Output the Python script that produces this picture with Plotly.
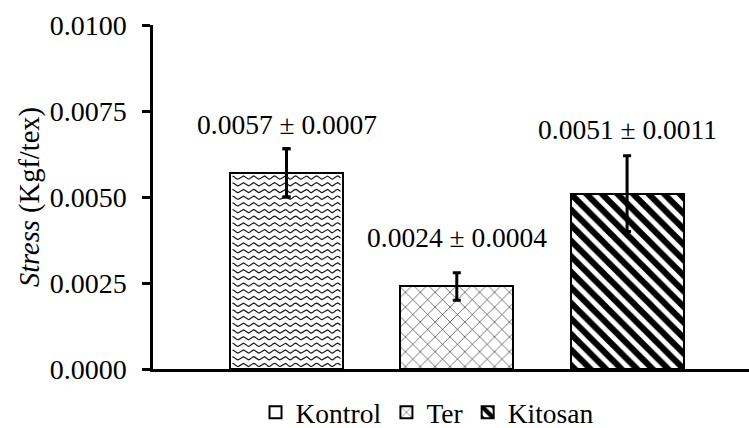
import numpy as np
import plotly.graph_objects as go

# Mean stress per treatment and its standard deviation
categories = ["Kontrol", "Ter", "Kitosan"]
stress_mean = [0.0057, 0.0024, 0.0051]
stress_sd = [0.0007, 0.0004, 0.0011]
y_ticks = [0.0, 0.0025, 0.0050, 0.0075, 0.0100]

positions = list(range(len(categories)))
bar_width = 0.664
x_range = [-0.784, 2.716]
y_range = [0.0, 0.0100]
label_lift = [7, 18, 9]   # px gap between error cap and value label

FONT = "Liberation Serif"

W, H = 749, 428
margin = dict(l=153, r=0, t=25, b=58.5, autoexpand=False)
px_per_x = (W - margin["l"] - margin["r"]) / (x_range[1] - x_range[0])
px_per_y = (H - margin["t"] - margin["b"]) / (y_range[1] - y_range[0])

patterns = {
    "Kontrol": dict(shape=""),
    "Ter": dict(shape="x", size=10.5, solidity=0.1, fgcolor="black",
                bgcolor="white", fgopacity=1),
    "Kitosan": dict(shape="\\", size=11, solidity=0.55, fgcolor="black",
                    bgcolor="white", fgopacity=1),
}

fig = go.Figure()

for pos, name, m, sd in zip(positions, categories, stress_mean, stress_sd):
    fig.add_trace(go.Bar(
        x=[pos], y=[m], name=name, width=bar_width,
        marker=dict(color="white", line=dict(color="black", width=2),
                    pattern=patterns[name]),
        error_y=dict(type="data", array=[sd], visible=True,
                     color="black", thickness=3, width=4),
    ))

# Wavy fill for the Kontrol bar, built from its own extent
def wave_fill(center, height, period_px=10.5, amp_px=1.6, gap_px=6.7, inset_px=2.5):
    x0 = center - bar_width / 2 + inset_px / px_per_x
    x1 = center + bar_width / 2 - inset_px / px_per_x
    xs = np.linspace(x0, x1, int((x1 - x0) * px_per_x) + 1)
    phase = (xs - x0) * px_per_x / period_px * 2 * np.pi
    amp = amp_px / px_per_y
    gap = gap_px / px_per_y
    out_x, out_y = [], []
    level = (inset_px + amp_px) / px_per_y
    while level + amp < height - inset_px / px_per_y:
        out_x += list(xs) + [None]
        out_y += list(level + amp * np.cos(phase)) + [None]
        level += gap
    return out_x, out_y

wx, wy = wave_fill(positions[0], stress_mean[0])
fig.add_trace(go.Scatter(x=wx, y=wy, mode="lines", showlegend=False,
                         hoverinfo="skip",
                         line=dict(color="#1a1a1a", width=1.2)))

# Redraw the Kontrol error bar above the wave lines
fig.add_trace(go.Scatter(
    x=[positions[0]], y=[stress_mean[0]], mode="markers", showlegend=False,
    marker=dict(size=1, color="rgba(0,0,0,0)"),
    error_y=dict(type="data", array=[stress_sd[0]], visible=True,
                 color="black", thickness=3, width=4),
    hoverinfo="skip",
))

for pos, m, sd, lift in zip(positions, stress_mean, stress_sd, label_lift):
    fig.add_annotation(
        x=pos, y=m + sd, text=f"{m:.4f} \u00b1 {sd:.4f}",
        showarrow=False, yanchor="bottom", yshift=lift,
        font=dict(family=FONT, size=27.5, color="black"),
    )

fig.update_layout(
    width=W, height=H, margin=margin,
    paper_bgcolor="white", plot_bgcolor="white",
    barmode="overlay", bargap=0,
    font=dict(family=FONT, color="black"),
    legend=dict(orientation="h", x=0.172, y=-0.126, xanchor="left", yanchor="middle",
                font=dict(family=FONT, size=27.5, color="black"),
                itemwidth=30, traceorder="normal"),
)

fig.update_xaxes(range=x_range, showline=True, linecolor="black", linewidth=2.5,
                 showticklabels=False, ticks="", showgrid=False, zeroline=False)
fig.update_yaxes(range=y_range, tickvals=y_ticks, tickformat=".4f",
                 showline=True, linecolor="black", linewidth=2.5,
                 ticks="outside", ticklen=8, tickwidth=2.5, tickcolor="black",
                 ticklabelstandoff=10,
                 tickfont=dict(family=FONT, size=28, color="black"),
                 showgrid=False, zeroline=False,
                 title=dict(text="<i>Stress</i> (Kgf/tex)", standoff=2,
                            font=dict(family=FONT, size=28.5, color="black")))

fig.write_html("out.html")
